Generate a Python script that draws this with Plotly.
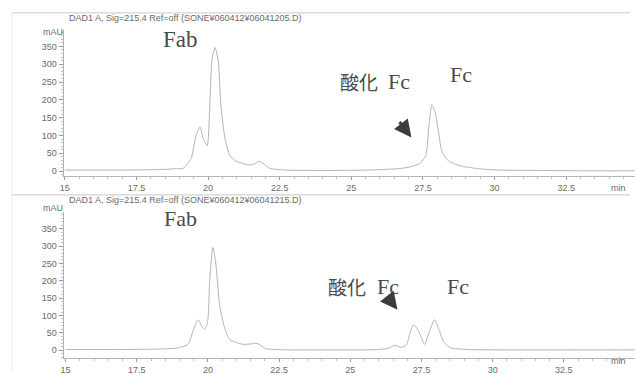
import plotly.graph_objects as go

W, H = 635, 375

# ---------------- data ----------------
top_time = [15.0, 16.0, 17.0, 18.0, 18.5, 18.9, 19.13, 19.41, 19.58, 19.72, 19.83, 19.97,
            20.07, 20.14, 20.24, 20.35, 20.45, 20.59, 20.76, 20.97, 21.2, 21.46, 21.65, 21.8,
            21.95, 22.15, 22.7, 23.5, 24.5, 25.5, 26.2, 26.77, 27.1, 27.4, 27.6, 27.71, 27.81,
            27.92, 28.06, 28.16, 28.4, 28.85, 29.55, 30.2, 31.5, 33.0, 35.0]
top_mau = [3, 3, 3, 4, 5, 7, 8, 36, 100, 124, 92, 72,
           203, 314, 347, 314, 183, 92, 44, 28, 22, 17, 22, 28,
           20, 8, 3, 2, 2, 3, 5, 8, 13, 22, 44, 128, 186,
           167, 100, 56, 28, 14, 6, 3, 2, 1, 1]

bot_time = [15.0, 16.0, 17.0, 18.0, 18.5, 18.88, 19.3, 19.47, 19.65, 19.79, 19.89, 19.99,
            20.06, 20.17, 20.27, 20.41, 20.59, 20.76, 21.0, 21.22, 21.5, 21.67, 21.8, 22.02,
            22.7, 23.5, 24.5, 25.5, 26.0, 26.35, 26.56, 26.8, 26.98, 27.09, 27.23, 27.4, 27.61,
            27.78, 27.96, 28.1, 28.27, 28.48, 29.15, 30.5, 32.0, 33.5, 35.0]
bot_mau = [2, 2, 2, 3, 4, 6, 17, 54, 88, 68, 60, 83,
           197, 296, 254, 131, 63, 31, 22, 17, 18, 20, 17, 5,
           1, 1, 1, 1, 2, 6, 14, 8, 17, 48, 74, 54, 17,
           54, 88, 63, 26, 8, 2, 1, 1, 1, 1]

y_ticks = [0, 50, 100, 150, 200, 250, 300, 350]
x_ticks = [15, 17.5, 20, 22.5, 25, 27.5, 30, 32.5]
x_tick_text = ["15", "17.5", "20", "22.5", "25", "27.5", "30", "32.5"]
headers = ["DAD1 A, Sig=215.4 Ref=off (SONE¥060412¥06041205.D)",
           "DAD1 A, Sig=215.4 Ref=off (SONE¥060412¥06041215.D)"]

# ---------------- figure ----------------
TRACE = "#b4b4b4"
AX = "#9a9a9a"
TXT = "#6a6a6a"
LBL = "#4a4a4a"

def px(x):
    return x / W

def py(y):
    return 1 - y / H

fig = go.Figure()
fig.add_trace(go.Scatter(x=top_time, y=top_mau, mode="lines", xaxis="x", yaxis="y",
                         line=dict(color=TRACE, width=1, shape="spline", smoothing=0.6),
                         hoverinfo="skip", showlegend=False))
fig.add_trace(go.Scatter(x=bot_time, y=bot_mau, mode="lines", xaxis="x2", yaxis="y2",
                         line=dict(color=TRACE, width=1, shape="spline", smoothing=0.6),
                         hoverinfo="skip", showlegend=False))

tickfont = dict(family="Liberation Sans, Arial, sans-serif", size=9, color=TXT)

def xax(domain, rng, anchor):
    return dict(domain=domain, range=rng, anchor=anchor, showgrid=False, zeroline=False,
                showline=True, linecolor="#b5b5b5", linewidth=1,
                tickmode="array", tickvals=x_ticks, ticktext=x_tick_text,
                ticks="outside", ticklen=3, tickcolor=AX, tickfont=tickfont,
                minor=dict(ticks="outside", ticklen=2, tickcolor="#c0c0c0", dtick=0.5),
                fixedrange=True)

def yax(domain, rng, anchor):
    return dict(domain=domain, range=rng, anchor=anchor, showgrid=False, zeroline=False,
                showline=True, linecolor="#b0b0b0", linewidth=1,
                tickmode="array", tickvals=y_ticks,
                ticks="outside", ticklen=4, tickcolor=AX, tickfont=tickfont,
                minor=dict(ticks="outside", ticklen=2, tickcolor="#c4c4c4", dtick=10),
                fixedrange=True)

fig.update_layout(
    width=W, height=H,
    margin=dict(l=0, r=0, t=0, b=0),
    paper_bgcolor="white", plot_bgcolor="white",
    xaxis=xax([px(60), 1.0], [14.96, 34.9], "y"),
    yaxis=yax([py(178), py(30)], [-13.9, 397], "x"),
    xaxis2=xax([px(60), 1.0], [14.93, 35.0], "y2"),
    yaxis2=yax([py(362), py(214)], [-22.8, 399], "x2"),
)

shapes = []
# frame lines of the scanned printout
for yy in (13, 197):
    shapes.append(dict(type="line", xref="paper", yref="paper", x0=px(8), x1=px(630),
                       y0=py(yy), y1=py(yy), line=dict(color="#c8c8c8", width=1)))
shapes.append(dict(type="line", xref="paper", yref="paper", x0=px(8), x1=px(8),
                   y0=py(13), y1=py(375), line=dict(color="#ececec", width=1)))
fig.update_layout(shapes=shapes)

ann = []
for hdr, yy in zip(headers, (18, 202)):
    ann.append(dict(text=hdr, xref="paper", yref="paper", x=px(183), y=py(yy),
                    showarrow=False, xanchor="center", yanchor="middle",
                    font=dict(family="Liberation Sans Narrow, Liberation Sans, sans-serif",
                              size=9, color=TXT)))
for yy in (25, 210):
    ann.append(dict(text="mAU", xref="paper", yref="paper", x=px(37), y=py(yy),
                    showarrow=False, font=tickfont))
for yy in (190, 372):
    ann.append(dict(text="min", xref="paper", yref="paper", x=px(628), y=py(yy),
                    showarrow=False, font=tickfont))

serif = "Liberation Serif, DejaVu Serif, serif"
cjk = "Noto Sans CJK JP, sans-serif"
labels = [
    ("Fab", serif, 23, 178, 40),
    ("Fc", serif, 22, 460, 75),
    ("酸化", cjk, 19, 357, 82),
    ("Fc", serif, 22, 398, 82),
    ("Fab", serif, 22, 178, 221),
    ("Fc", serif, 22, 457, 290),
    ("酸化", cjk, 19, 345, 290),
    ("Fc", serif, 22, 386, 290),
]
for t, fam, sz, xx, yy in labels:
    ann.append(dict(text=t, xref="paper", yref="paper", x=px(xx), y=py(yy),
                    showarrow=False, xanchor="center", yanchor="middle",
                    font=dict(family=fam, size=sz, color=LBL)))

# arrows pointing at the oxidised Fc peak
ann.append(dict(text="", xref="paper", yref="paper", x=px(410), y=py(139),
                ax=-13, ay=-17, showarrow=True, arrowhead=2, arrowsize=1.15,
                arrowwidth=3, arrowcolor="#3c3c3c"))
ann.append(dict(text="", xref="paper", yref="paper", x=px(396), y=py(313),
                ax=-11, ay=-14, showarrow=True, arrowhead=2, arrowsize=1.15,
                arrowwidth=3, arrowcolor="#3c3c3c"))
fig.update_layout(annotations=ann)

fig.write_html("out.html")
